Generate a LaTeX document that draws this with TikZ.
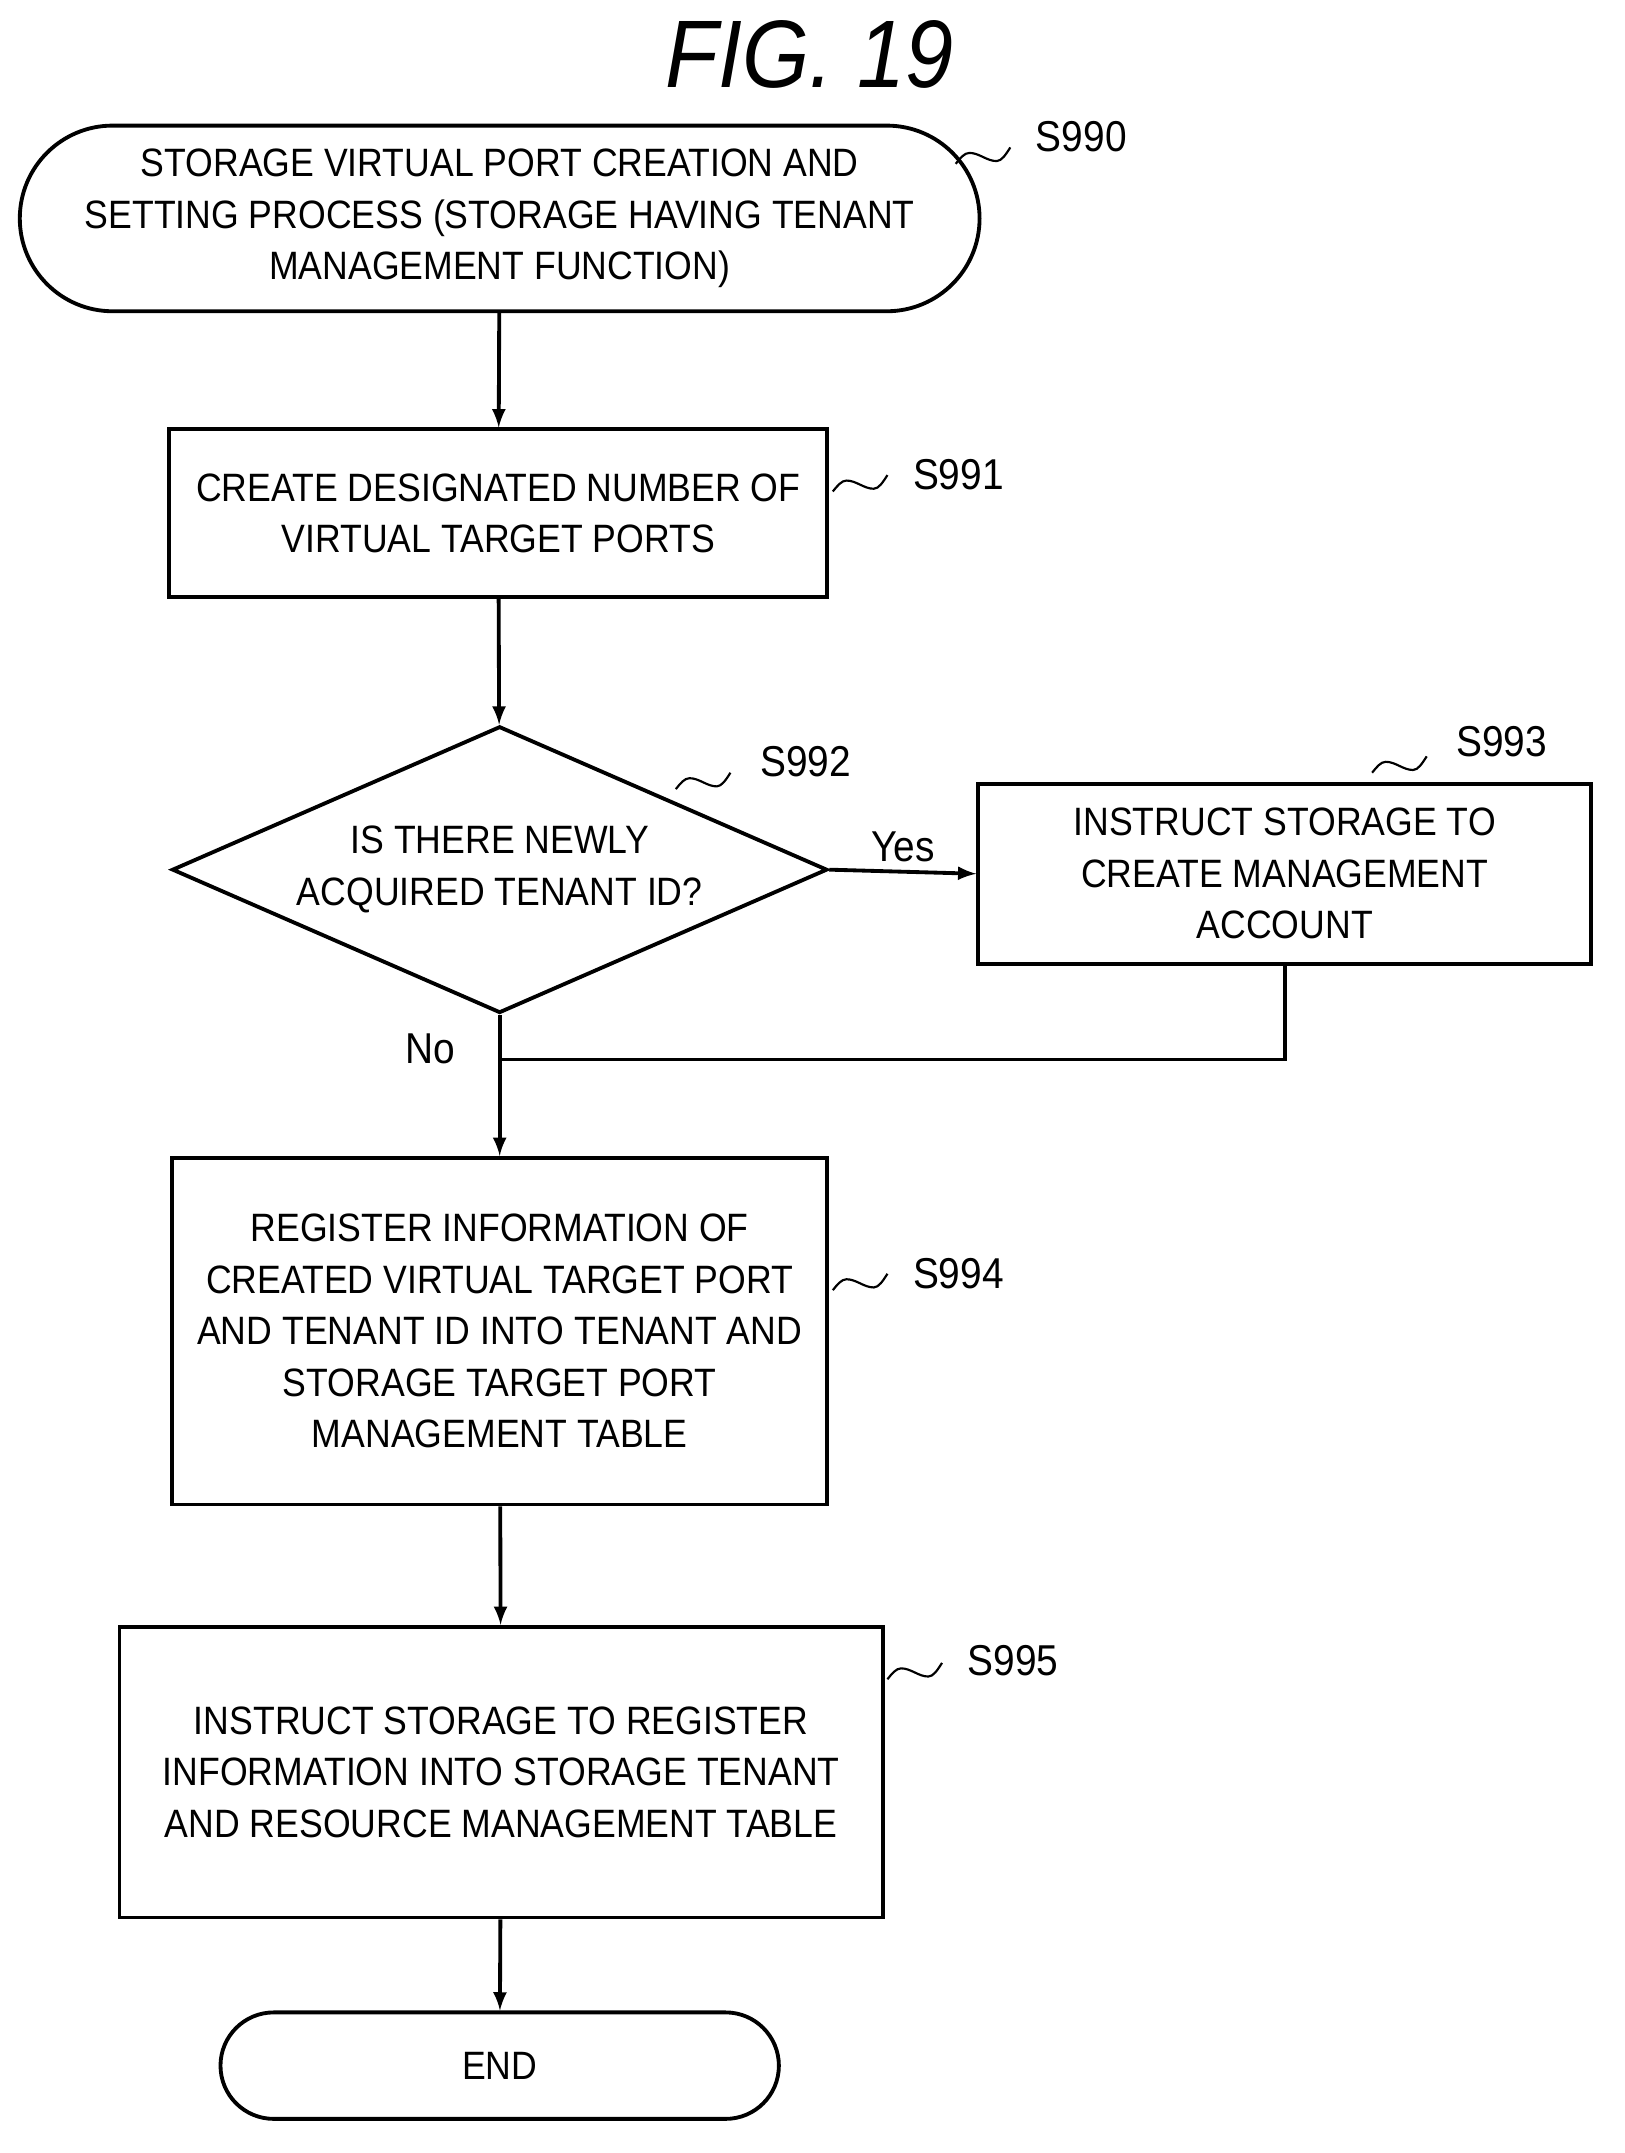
\documentclass[tikz,border=0pt]{standalone}
\usepackage{fontspec}
\setmainfont{Liberation Sans}[FakeStretch=0.9]
\usetikzlibrary{positioning,shapes.geometric}
\begin{document}
\begin{tikzpicture}[x=0.02cm,y=-0.02cm,
  every node/.style={font=\fontsize{16.5}{21.5}\selectfont},
  box/.style={draw, line width=1.6pt, align=center, inner sep=0pt},
  term/.style={box, rounded corners=34pt},
  dia/.style={draw, line width=1.6pt, diamond, aspect=2.29, inner sep=0pt, align=center, minimum width=480*0.02cm, minimum height=210*0.02cm},
  arr/.style={->, >=latex, line width=1.6pt},
  lbl/.style={font=\fontsize{18}{22}\selectfont},
  squig/.style={line width=0.9pt}
]
\useasboundingbox (0,0) rectangle (1190,1577);

\node[font=\fontsize{40}{42}\selectfont\itshape] (title) at (593,40) {FIG. 19};

% steps
\node[term, minimum width=703*0.02cm, minimum height=136*0.02cm, rounded corners=68*0.02cm] (start) at (366,160)
  {STORAGE VIRTUAL PORT CREATION AND\\SETTING PROCESS (STORAGE HAVING TENANT\\MANAGEMENT FUNCTION)};
\node[box, minimum width=482*0.02cm, minimum height=123*0.02cm] (s991) at (365,376)
  {CREATE DESIGNATED NUMBER OF\\VIRTUAL TARGET PORTS};
\node[dia] (s992) at (366,637) {IS THERE NEWLY\\ACQUIRED TENANT ID?};
\node[box, minimum width=449*0.02cm, minimum height=132*0.02cm] (s993) at (941,640)
  {INSTRUCT STORAGE TO\\CREATE MANAGEMENT\\ACCOUNT};
\node[box, minimum width=480*0.02cm, minimum height=254*0.02cm] (s994) at (366,975)
  {REGISTER INFORMATION OF\\CREATED VIRTUAL TARGET PORT\\AND TENANT ID INTO TENANT AND\\STORAGE TARGET PORT\\MANAGEMENT TABLE};
\node[box, minimum width=559*0.02cm, minimum height=213*0.02cm] (s995) at (367,1298)
  {INSTRUCT STORAGE TO REGISTER\\INFORMATION INTO STORAGE TENANT\\AND RESOURCE MANAGEMENT TABLE};
\node[term, minimum width=409*0.02cm, minimum height=78*0.02cm, rounded corners=39*0.02cm] (end) at (366,1513) {END};

% connectors
\coordinate (merge) at (366,776);
\draw[arr] (start) -- (s991);
\draw[arr] (s991) -- (s992);
\draw[arr] (s992.east) -- (s993.west) node[lbl, midway, above] {Yes};
\draw[line width=1.6pt] (s993.south) |- (merge);
\draw[arr] (s992.south) -- (s994.north);
\node[lbl] (no) at (315,768) {No};
\draw[arr] (s994) -- (s995);
\draw[arr] (s995) -- (end);

% step labels
\node[lbl] (l990) at (792,100) {S990};
\node[lbl] (l991) at (702,348) {S991};
\node[lbl] (l992) at (590,558) {S992};
\node[lbl] (l993) at (1100,543) {S993};
\node[lbl] (l994) at (702,933) {S994};
\node[lbl] (l995) at (742,1216) {S995};
\draw[squig] (700,120) sin (710,112) cos (720,115) sin (730,118) cos (740,108);
\draw[squig] (610,360) sin (620,352) cos (630,355) sin (640,358) cos (650,348);
\draw[squig] (495,578) sin (505,570) cos (515,573) sin (525,576) cos (535,566);
\draw[squig] (1005,566) sin (1015,558) cos (1025,561) sin (1035,564) cos (1045,554);
\draw[squig] (610,945) sin (620,937) cos (630,940) sin (640,943) cos (650,933);
\draw[squig] (650,1230) sin (660,1222) cos (670,1225) sin (680,1228) cos (690,1218);
\end{tikzpicture}
\end{document}
